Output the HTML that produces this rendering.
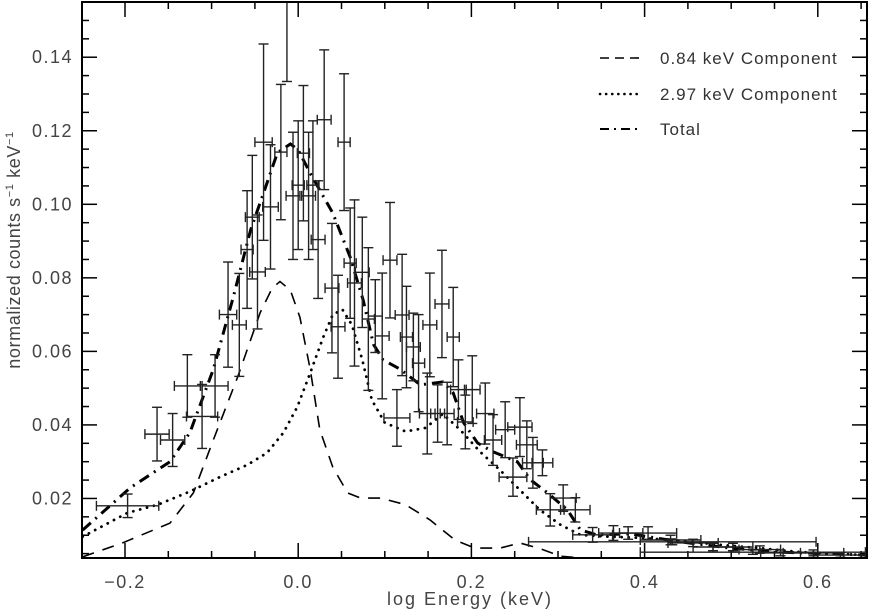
<!DOCTYPE html>
<html><head><meta charset="utf-8"><style>
html,body{margin:0;padding:0;background:#fff;}
svg{display:block;font-family:"Liberation Sans",sans-serif;}
</style></head><body>
<svg id="chart" width="869" height="616" viewBox="0 0 869 616">
<defs><clipPath id="plotclip"><rect x="82" y="2" width="785" height="556"/></clipPath></defs>
<g id="ticks"></g>
<g id="marks" clip-path="url(#plotclip)"></g>
<rect x="82" y="2" width="785" height="556" fill="none" stroke="#000" stroke-width="2"/>
<text x="470" y="605" font-size="18" fill="#444" text-anchor="middle" letter-spacing="2">log Energy (keV)</text>
<text transform="translate(20,250) rotate(-90)" font-size="18" fill="#444" text-anchor="middle" letter-spacing="0.6">normalized counts s<tspan dy="-7" font-size="11">−1</tspan><tspan dy="7"> keV</tspan><tspan dy="-7" font-size="11">−1</tspan></text>
<g>
 <g>
  <line x1="600" y1="58" x2="642" y2="58" stroke="#000" stroke-width="1.6" stroke-dasharray="9,6"/>
  <text x="660" y="64" font-size="17" fill="#333" letter-spacing="1">0.84 keV Component</text>
 </g>
 <g>
  <line x1="600" y1="94" x2="642" y2="94" stroke="#000" stroke-width="2.6" stroke-dasharray="0.1,6" stroke-linecap="round"/>
  <text x="660" y="100" font-size="17" fill="#333" letter-spacing="1">2.97 keV Component</text>
 </g>
 <g>
  <line x1="600" y1="129" x2="642" y2="129" stroke="#000" stroke-width="2" stroke-dasharray="9,5,2,5"/>
  <text x="660" y="135" font-size="17" fill="#333" letter-spacing="1">Total</text>
 </g>
</g>
</svg>
<script>
// ---- data ----
const ptX  = [-0.197,-0.163,-0.145,-0.128,-0.111,-0.096,-0.081,-0.068,-0.059,-0.053,-0.047,-0.040,-0.032,-0.020,-0.013,-0.006,0.000,0.006,0.012,0.017,0.023,0.030,0.039,0.046,0.053,0.060,0.065,0.074,0.081,0.089,0.097,0.106,0.114,0.120,0.125,0.133,0.139,0.149,0.152,0.161,0.166,0.172,0.179,0.185,0.193,0.201,0.216,0.225,0.239,0.248,0.256,0.264,0.271,0.282,0.291,0.306,0.320,0.340,0.364,0.381,0.404,0.430,0.456,0.479,0.502,0.533,0.557,0.595,0.626,0.432,0.525];
const ptY  = [0.0180,0.0375,0.0359,0.0506,0.0423,0.0506,0.0700,0.0672,0.0877,0.0965,0.0816,0.1169,0.0993,0.1142,0.1614,0.1023,0.1052,0.1139,0.1023,0.1052,0.0904,0.1230,0.0772,0.0667,0.1169,0.0840,0.0786,0.0815,0.0688,0.0696,0.0642,0.0848,0.0419,0.0699,0.0639,0.0612,0.0568,0.0431,0.0672,0.0431,0.0729,0.0431,0.0639,0.0496,0.0408,0.0496,0.0431,0.0359,0.0387,0.0258,0.0394,0.0346,0.0297,0.0297,0.0169,0.0201,0.0169,0.0101,0.0106,0.0106,0.0106,0.0087,0.0079,0.0068,0.0068,0.0061,0.0052,0.0052,0.0046,0.0082,0.0054];
const ptXe = [0.036,0.014,0.014,0.015,0.018,0.015,0.010,0.008,0.007,0.008,0.009,0.010,0.009,0.007,0.006,0.008,0.007,0.007,0.008,0.007,0.008,0.008,0.008,0.008,0.007,0.007,0.008,0.008,0.007,0.008,0.008,0.008,0.015,0.008,0.007,0.008,0.007,0.009,0.008,0.008,0.008,0.008,0.007,0.009,0.009,0.009,0.010,0.010,0.011,0.016,0.014,0.012,0.012,0.012,0.016,0.015,0.017,0.023,0.017,0.017,0.033,0.035,0.029,0.023,0.023,0.024,0.023,0.035,0.031,0.166,0.13];
const ptYe = [0.0032,0.0073,0.0072,0.0085,0.0087,0.0085,0.0143,0.014,0.016,0.0168,0.0155,0.0267,0.0169,0.0184,0.028,0.0173,0.0175,0.0184,0.0173,0.0175,0.016,0.019,0.0176,0.014,0.0186,0.015,0.0226,0.015,0.0194,0.0099,0.0171,0.0157,0.0077,0.0165,0.0138,0.0092,0.0132,0.011,0.0141,0.0078,0.0146,0.0085,0.0135,0.0081,0.0073,0.0092,0.0083,0.0069,0.0076,0.0052,0.008,0.0065,0.0069,0.0035,0.0044,0.0036,0.0033,0.002,0.002,0.0017,0.0017,0.0013,0.001,0.001,0.001,0.001,0.0008,0.0008,0.0006,0.0008,0.0006];

const dashX = [-0.249,-0.202,-0.148,-0.121,-0.098,-0.070,-0.044,-0.030,-0.021,-0.009,0.002,0.014,0.025,0.040,0.057,0.072,0.095,0.124,0.152,0.181,0.204,0.233,0.256,0.279,0.303,0.326];
const dashY = [0.0041,0.0080,0.0133,0.0215,0.0359,0.0530,0.0705,0.0772,0.0790,0.0766,0.0693,0.0550,0.0387,0.0285,0.0215,0.0201,0.0201,0.0183,0.0142,0.0087,0.0065,0.0065,0.0079,0.0064,0.0043,0.0038];

const dotX = [-0.249,-0.197,-0.162,-0.125,-0.090,-0.059,-0.036,-0.017,-0.001,0.014,0.029,0.040,0.051,0.062,0.074,0.085,0.100,0.124,0.147,0.167,0.187,0.210,0.233,0.256,0.279,0.303,0.326,0.360,0.395,0.441,0.487,0.533,0.580,0.656];
const dotY = [0.0096,0.0161,0.0183,0.0219,0.0259,0.0291,0.0324,0.0379,0.0449,0.0542,0.0639,0.0700,0.0714,0.0672,0.0577,0.0468,0.0406,0.0382,0.0392,0.0430,0.0387,0.0327,0.0277,0.0223,0.0169,0.0128,0.0101,0.0096,0.0093,0.0085,0.0074,0.0065,0.0054,0.0046];

const totX = [-0.249,-0.194,-0.148,-0.125,-0.098,-0.075,-0.055,-0.040,-0.024,-0.009,0.000,0.014,0.040,0.060,0.075,0.087,0.098,0.118,0.141,0.167,0.179,0.191,0.207,0.225,0.253,0.268,0.288,0.311,0.326,0.345,0.383,0.441,0.499,0.557,0.656];
const totY = [0.0114,0.0229,0.0300,0.0379,0.0551,0.0748,0.0930,0.1031,0.1140,0.1164,0.1148,0.1084,0.0976,0.0856,0.0740,0.0619,0.0577,0.0551,0.0509,0.0517,0.0487,0.0406,0.0351,0.0327,0.0300,0.0251,0.0215,0.0169,0.0114,0.0101,0.0104,0.0082,0.0065,0.0054,0.0046];

const xTickLabels = ["−0.2","0.0","0.2","0.4","0.6"];
const xTickVals = [-0.2,0.0,0.2,0.4,0.6];
const yTickLabels = ["0.02","0.04","0.06","0.08","0.10","0.12","0.14"];
const yTickVals = [0.02,0.04,0.06,0.08,0.10,0.12,0.14];

// ---- axes ----
const X0=82, X1=867, Y0=558, Y1=2;
function sx(v){ return 298.2 + 866*v; }
function sy(v){ return 572 - 3677*v; }
const NS="http://www.w3.org/2000/svg";
function mk(tag, attrs, parent){
  const e=document.createElementNS(NS,tag);
  for(const k in attrs) e.setAttribute(k, attrs[k]);
  parent.appendChild(e); return e;
}
const ticks=document.getElementById('ticks');
const marks=document.getElementById('marks');

for(let i=0;i<=18;i++){
  const v=-0.25+0.05*i; const px=sx(v);
  if(px<X0+1||px>X1-1) continue;
  const major = Math.abs(Math.round(v/0.2)*0.2 - v) < 1e-6;
  const L = major?15:7;
  const t1=mk('line',{x1:px,y1:Y0,x2:px,y2:Y0-L,stroke:'#000','stroke-width':1.5},ticks);
  
  
  const t2=mk('line',{x1:px,y1:Y1,x2:px,y2:Y1+L,stroke:'#000','stroke-width':1.5},ticks);
  
  
}
xTickVals.forEach((v,i)=>{
  const t=mk('text',{x:sx(v),y:588,'font-size':18,fill:'#444','text-anchor':'middle','letter-spacing':1.5},ticks);
  t.textContent=xTickLabels[i];
  
  
});
for(let i=1;i<=31;i++){
  const v=0.005*i; const py=sy(v);
  if(py<Y1+1||py>Y0-1) continue;
  const major = (i%4===0);
  const L = major?15:7;
  const t1=mk('line',{x1:X0,y1:py,x2:X0+L,y2:py,stroke:'#000','stroke-width':1.5},ticks);
  
  
  const t2=mk('line',{x1:X1,y1:py,x2:X1-L,y2:py,stroke:'#000','stroke-width':1.5},ticks);
  
  
}
yTickVals.forEach((v,i)=>{
  const t=mk('text',{x:73,y:sy(v)+6,'font-size':18,fill:'#444','text-anchor':'end','letter-spacing':1.5},ticks);
  t.textContent=yTickLabels[i];
  
  
});

function poly(xs,ys){ return xs.map((v,i)=>sx(v).toFixed(1)+','+sy(ys[i]).toFixed(1)).join(' '); }
const cDash=mk('polyline',{points:poly(dashX,dashY),fill:'none',stroke:'#000','stroke-width':1.6,'stroke-dasharray':'12,9'},marks);


const cDot=mk('polyline',{points:poly(dotX,dotY),fill:'none',stroke:'#000','stroke-width':2.8,'stroke-dasharray':'0.1,7','stroke-linecap':'round'},marks);


const cTot=mk('polyline',{points:poly(totX,totY),fill:'none',stroke:'#000','stroke-width':3,'stroke-dasharray':'11,6,2,6'},marks);



ptX.forEach((v,i)=>{
  const g=mk('g',{stroke:'#222','stroke-width':1.4,fill:'none'},marks);
  
  
  const cx=sx(v), cy=sy(ptY[i]);
  const xl=sx(v-ptXe[i]), xr=sx(v+ptXe[i]);
  const yt=sy(ptY[i]+ptYe[i]), yb=sy(ptY[i]-ptYe[i]);
  mk('line',{x1:xl,y1:cy,x2:xr,y2:cy},g);
  mk('line',{x1:cx,y1:yt,x2:cx,y2:yb},g);
  mk('line',{x1:cx-5,y1:yt,x2:cx+5,y2:yt},g);
  mk('line',{x1:cx-5,y1:yb,x2:cx+5,y2:yb},g);
  mk('line',{x1:xl,y1:cy-5,x2:xl,y2:cy+5},g);
  mk('line',{x1:xr,y1:cy-5,x2:xr,y2:cy+5},g);
});
</script>
</body></html>
